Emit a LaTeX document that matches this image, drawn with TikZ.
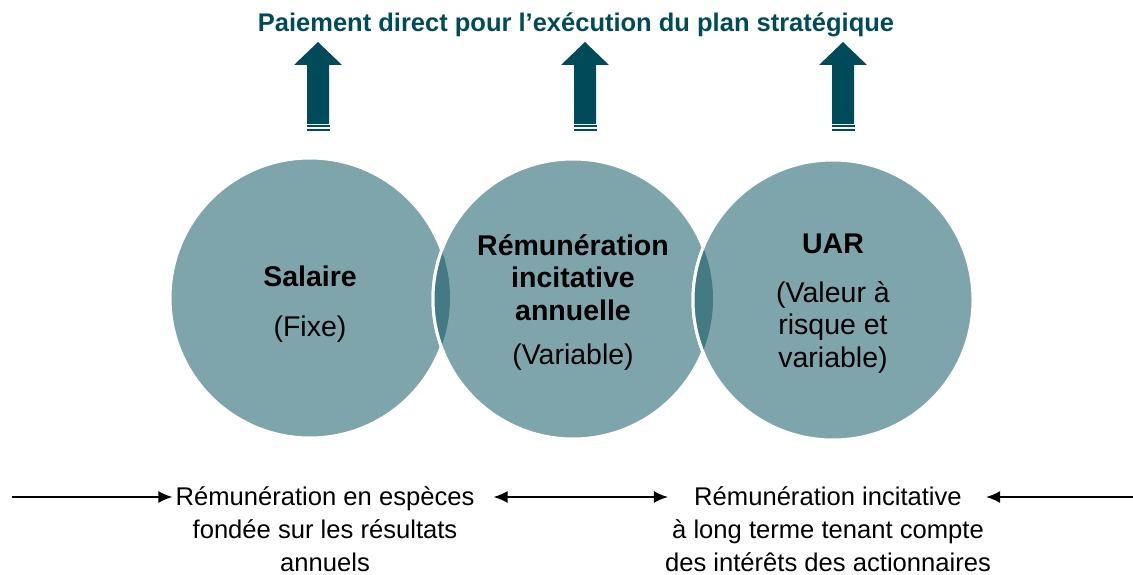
\documentclass[tikz,border=0pt]{standalone}
\usepackage{fontspec}
\setmainfont{Liberation Sans}
\usetikzlibrary{arrows.meta}
\definecolor{bulle}{HTML}{7FA5AC}
\definecolor{lentille}{HTML}{437A84}
\definecolor{fonce}{HTML}{004B59}
\begin{document}
\begin{tikzpicture}[x=1pt,y=-1pt,>={Latex[length=14pt,width=12pt]},
  bulle/.style={circle,fill=bulle,draw=white,line width=3pt,minimum size=280pt,
    inner sep=0pt,align=center,font=\fontsize{28.5}{32.5}\selectfont},
  texte/.style={align=center,inner sep=0pt,font=\fontsize{25.6}{33}\selectfont},
  fleche/.style={->,line width=1.5pt}]
\useasboundingbox (0,0) rectangle (1133,575);
\def\r{140}
\def\pousse#1{
\fill[fonce] ({#1-11},124) -- ({#1-11},65) -- ({#1-24},65) -- (#1,42)
  -- ({#1+24},65) -- ({#1+11},65) -- ({#1+11},124) -- cycle;
\fill[fonce] ({#1-11},125.5) rectangle ({#1+12},127.5);
\fill[fonce] ({#1-11},129) rectangle ({#1+12},131);
}
% titre
\node[font=\fontsize{25.5}{30}\selectfont\bfseries,text=fonce] (titre) at (576,25)
  {Paiement direct pour l'exécution du plan stratégique};
\pousse{318}
\pousse{585}
\pousse{843}
% cercles
\node[bulle] (salaire) at (310,298) {\textbf{Salaire}\\[18pt](Fixe)\\[-39pt]};
\node[bulle] (annuelle) at (573,299)
  {\textbf{Rémunération}\\\textbf{incitative}\\\textbf{annuelle}\\[12pt](Variable)\\[-34pt]};
\node[bulle] (uar) at (833,300)
  {\textbf{UAR}\\[16pt](Valeur à\\risque et\\variable)\\[-34pt]};
\begin{scope}
\clip (salaire.center) circle[radius=\r];
\filldraw[fill=lentille,draw=white,line width=3pt] (annuelle.center) circle[radius=\r];
\end{scope}
\begin{scope}
\clip (annuelle.center) circle[radius=\r];
\filldraw[fill=lentille,draw=white,line width=3pt] (uar.center) circle[radius=\r];
\end{scope}
% textes du bas
\node[texte] (especes) at (325,529)
  {Rémunération en espèces\\fondée sur les résultats\\annuels};
\node[texte] (long) at (828,529)
  {Rémunération incitative\\à long terme tenant compte\\des intérêts des actionnaires};
\coordinate (gauche) at (12,497);
\coordinate (droite) at (1133,497);
\draw[fleche] (gauche) -- ([xshift=-3pt]gauche -| especes.west);
\draw[fleche,<->] ([xshift=19pt]especes.east |- gauche) -- ([xshift=3pt]long.west |- gauche);
\draw[fleche] (droite) -- ([xshift=-5pt]long.east |- droite);
\end{tikzpicture}
\end{document}
